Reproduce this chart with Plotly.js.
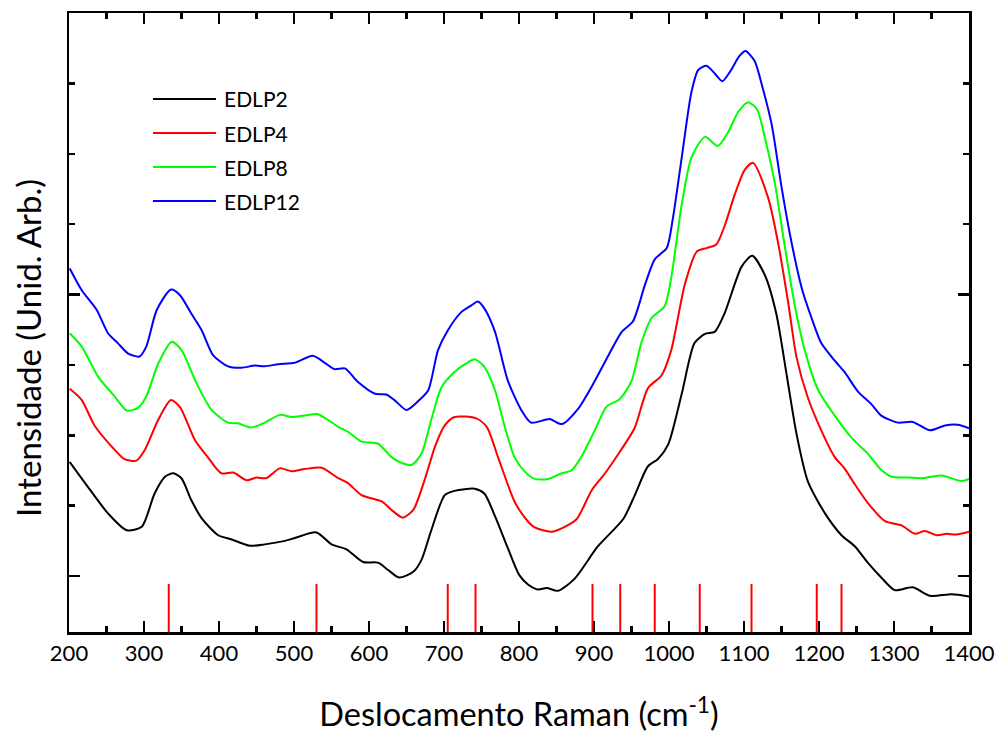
<!DOCTYPE html>
<html>
<head>
<meta charset="utf-8">
<script src="https://cdn.plot.ly/plotly-3.0.1.min.js"></script>
<style>html,body{margin:0;padding:0;background:#fff;}#chart{width:999px;height:735px;}</style>
</head>
<body>
<div id="chart"></div>
<script>
// ---- Data ----
const seriesNames = ["EDLP2", "EDLP4", "EDLP8", "EDLP12"];
const seriesColors = ["#000000", "#ff0000", "#00ff00", "#0000ff"];

const xEDLP2 = [201,225,252,277,297,314,328,339,350,363,377,399,417,441,461,488,501,530,550,570,592,612,625,640,659,670,683,701,714,741,754,768,785,800,812,825,837,852,874,905,939,954,972,985,999,1017,1034,1048,1061,1074,1097,1111,1128,1143,1157,1170,1185,1208,1230,1248,1265,1283,1301,1325,1348,1377,1400];
const yEDLP2 = [1.62,1.27,0.89,0.65,0.70,1.17,1.41,1.46,1.39,1.08,0.82,0.58,0.52,0.43,0.45,0.50,0.54,0.62,0.45,0.38,0.20,0.19,0.09,-0.02,0.06,0.23,0.65,1.15,1.21,1.24,1.17,0.85,0.40,0.02,-0.12,-0.19,-0.17,-0.21,-0.04,0.42,0.81,1.14,1.56,1.66,1.87,2.59,3.31,3.44,3.47,3.73,4.40,4.55,4.27,3.73,2.85,2.02,1.35,0.89,0.58,0.42,0.19,-0.02,-0.20,-0.16,-0.28,-0.26,-0.29];

const xEDLP4 = [201,217,234,257,274,290,301,319,336,348,368,385,403,419,437,450,463,481,497,514,537,559,572,590,617,630,645,659,674,688,701,714,743,757,772,794,810,821,843,861,877,897,914,934,954,972,990,1003,1021,1037,1050,1063,1074,1088,1101,1112,1132,1145,1159,1170,1185,1203,1221,1234,1248,1265,1288,1310,1328,1341,1357,1370,1383,1400];
const yEDLP4 = [2.66,2.50,2.14,1.84,1.66,1.64,1.79,2.22,2.50,2.40,1.93,1.69,1.46,1.47,1.36,1.40,1.39,1.53,1.49,1.52,1.54,1.39,1.32,1.15,1.06,0.94,0.83,0.94,1.36,1.84,2.14,2.26,2.24,2.12,1.69,1.06,0.80,0.69,0.63,0.70,0.81,1.22,1.45,1.76,2.10,2.67,2.85,3.21,4.14,4.61,4.66,4.71,4.97,5.43,5.77,5.87,5.38,4.76,3.88,3.11,2.54,2.07,1.69,1.53,1.30,1.04,0.78,0.72,0.60,0.64,0.58,0.60,0.59,0.63];

const xEDLP8 = [201,217,239,261,277,292,303,319,337,350,370,390,412,425,443,461,481,497,514,532,559,572,590,612,630,643,657,670,683,697,714,728,741,754,768,781,794,808,821,839,857,870,883,901,917,934,950,963,977,994,1003,1017,1030,1048,1065,1079,1092,1105,1117,1128,1141,1154,1168,1181,1199,1221,1243,1265,1283,1297,1319,1337,1363,1390,1400];
const yEDLP8 = [3.45,3.26,2.83,2.55,2.35,2.39,2.55,3.02,3.33,3.21,2.74,2.36,2.18,2.17,2.11,2.18,2.29,2.26,2.28,2.30,2.12,2.05,1.91,1.88,1.69,1.61,1.58,1.74,2.22,2.69,2.90,3.01,3.08,2.97,2.64,2.12,1.69,1.48,1.38,1.38,1.46,1.50,1.69,2.07,2.41,2.51,2.77,3.31,3.67,3.83,4.24,5.28,5.95,6.24,6.11,6.31,6.59,6.73,6.64,6.22,5.59,4.71,3.83,3.21,2.64,2.28,1.97,1.74,1.51,1.41,1.40,1.39,1.43,1.35,1.38];

const xEDLP12 = [201,217,237,252,265,279,294,303,317,336,348,363,377,392,412,430,448,461,479,501,525,541,554,568,585,608,623,634,650,665,679,692,705,723,737,745,754,768,785,803,816,841,857,879,901,919,937,952,968,981,997,1005,1017,1030,1039,1050,1061,1071,1081,1094,1102,1114,1125,1137,1150,1163,1177,1190,1203,1221,1234,1252,1270,1283,1305,1325,1348,1368,1385,1400];
const yEDLP12 = [4.37,4.06,3.78,3.45,3.31,3.16,3.12,3.26,3.78,4.07,3.99,3.73,3.49,3.14,2.98,2.96,2.99,2.98,3.01,3.03,3.13,3.03,2.94,2.95,2.76,2.59,2.58,2.50,2.36,2.48,2.64,3.21,3.49,3.75,3.85,3.90,3.80,3.47,2.78,2.36,2.18,2.23,2.16,2.38,2.77,3.13,3.47,3.62,4.14,4.50,4.66,5.07,5.95,6.88,7.19,7.25,7.14,7.03,7.16,7.39,7.46,7.32,6.93,6.41,5.53,4.76,4.09,3.67,3.31,3.06,2.90,2.62,2.44,2.28,2.18,2.19,2.07,2.14,2.15,2.10];

// Reference band positions (red markers at the bottom)
const referenceBands = [333, 530, 705, 742, 898, 935, 981, 1041, 1110, 1197, 1230];

const xTickVals = [200,300,400,500,600,700,800,900,1000,1100,1200,1300,1400];
const xTickText = ["200","300","400","500","600","700","800","900","1000","1100","1200","1300","1400"];

// ---- Build chart ----
const FONT = "Lato, 'Open Sans', sans-serif";
const xs = [xEDLP2, xEDLP4, xEDLP8, xEDLP12];
const ys = [yEDLP2, yEDLP4, yEDLP8, yEDLP12];

const traces = seriesNames.map((name, i) => ({
  type: "scatter", mode: "lines", name: name,
  x: xs[i], y: ys[i],
  line: {color: seriesColors[i], width: 2, shape: "spline", smoothing: 0.7},
  showlegend: false, hoverinfo: "skip"
}));

const shapes = referenceBands.map(b => ({
  type: "line", xref: "x", yref: "paper",
  x0: b, x1: b, y0: 0, y1: 0.0775,
  line: {color: "#ff0000", width: 2}
}));

const annotations = [];
// Custom legend (line sample + label)
seriesNames.forEach((name, i) => {
  const yp = 1 - (86 + 34 * i) / 619;
  shapes.push({type: "line", xref: "paper", yref: "paper",
    x0: 0.0933, x1: 0.1633, y0: yp, y1: yp,
    line: {color: seriesColors[i], width: 2}});
  annotations.push({xref: "paper", yref: "paper", x: 0.170, y: yp,
    xanchor: "left", yanchor: "middle", showarrow: false, text: name,
    font: {family: FONT, size: 21, color: "#000"}});
});
// Y axis title
annotations.push({xref: "paper", yref: "paper", x: -0.0455, y: 0.459,
  xanchor: "center", yanchor: "middle", showarrow: false, textangle: -90,
  text: "Intensidade (Unid. Arb.)",
  font: {family: FONT, size: 33, color: "#000"}});

const layout = {
  width: 999, height: 735,
  margin: {l: 69, r: 30, t: 13, b: 103},
  paper_bgcolor: "#fff", plot_bgcolor: "#fff",
  showlegend: false,
  font: {family: FONT, color: "#000"},
  xaxis: {
    range: [200, 1400], tickmode: "array", tickvals: xTickVals, ticktext: xTickText,
    ticks: "inside", ticklen: 11, tickwidth: 2.5, tickcolor: "#000",
    minor: {dtick: 50, ticks: "inside", ticklen: 6, tickwidth: 2.5, tickcolor: "#000", showgrid: false},
    showline: true, linewidth: 2.5, linecolor: "#000", mirror: "ticks",
    showgrid: false, zeroline: false,
    tickfont: {size: 22, family: FONT, color: "#000"},
    title: {text: "Deslocamento Raman (cm<sup>-1</sup>)", font: {size: 32.5, family: FONT, color: "#000"}, standoff: 39}
  },
  yaxis: {
    range: [-0.795, 8.0], tick0: 0, dtick: 4,
    ticks: "inside", ticklen: 11, tickwidth: 2.5, tickcolor: "#000",
    minor: {dtick: 1, ticks: "inside", ticklen: 6, tickwidth: 2.5, tickcolor: "#000", showgrid: false},
    showline: true, linewidth: 2.5, linecolor: "#000", mirror: "ticks",
    showticklabels: false, showgrid: false, zeroline: false
  },
  shapes: shapes,
  annotations: annotations
};

Plotly.newPlot("chart", traces, layout, {displayModeBar: false, staticPlot: true});
</script>
</body>
</html>
